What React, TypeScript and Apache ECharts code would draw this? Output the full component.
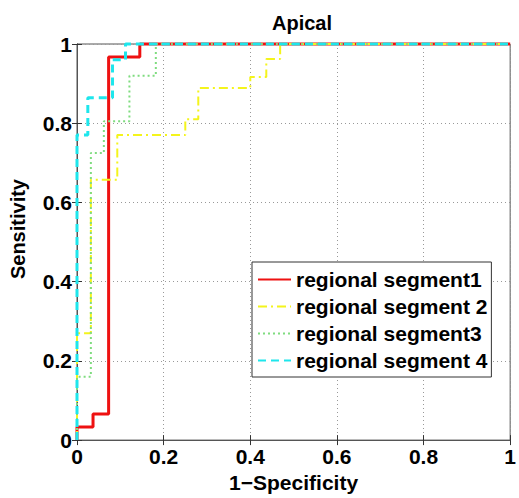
import React, { useEffect, useRef } from "react";
import * as echarts from "echarts";

const titleText = "Apical";
const xName = "1\u2212Specificity";
const yName = "Sensitivity";
const seriesNames = ["regional segment1", "regional segment 2", "regional segment3", "regional segment 4"];

const fpr1 = [0, 0, 0.037, 0.037, 0.073, 0.073, 0.145, 0.145, 1];
const tpr1 = [0, 0.033, 0.033, 0.066, 0.066, 0.967, 0.967, 1, 1];

const fpr2 = [0, 0, 0.032, 0.032, 0.093, 0.093, 0.25, 0.25, 0.28, 0.28, 0.4, 0.4, 0.437, 0.437, 0.469, 0.469, 1];
const tpr2 = [0, 0.27, 0.27, 0.657, 0.657, 0.77, 0.77, 0.81, 0.81, 0.889, 0.889, 0.917, 0.917, 0.962, 0.962, 1, 1];

const fpr3 = [0, 0, 0.032, 0.032, 0.062, 0.062, 0.121, 0.121, 0.182, 0.182, 1];
const tpr3 = [0, 0.16, 0.16, 0.725, 0.725, 0.805, 0.805, 0.92, 0.92, 1, 1];

const fpr4 = [0, 0, 0.025, 0.025, 0.082, 0.082, 0.112, 0.112, 1];
const tpr4 = [0, 0.77, 0.77, 0.864, 0.864, 0.96, 0.96, 1, 1];

const FONT = "'Liberation Sans', Arial, Helvetica, sans-serif";

function zip(xs: number[], ys: number[]) {
  return xs.map((x, i) => [x, ys[i]]);
}

export default function App() {
  const ref = useRef<HTMLDivElement>(null);
  useEffect(() => {
    if (!ref.current) return;
    const chart = echarts.init(ref.current, null, { renderer: "svg" });
    const styles = [
      { color: "#ee1111", width: 3, type: "solid" as any },
      { color: "#f4f41c", width: 2, type: [9, 4, 2, 4] as any },
      { color: "#7fdc7f", width: 2, type: [2, 3] as any },
      { color: "#1ee6ec", width: 3, type: [8, 5] as any },
    ];
    const datas = [zip(fpr1, tpr1), zip(fpr2, tpr2), zip(fpr3, tpr3), zip(fpr4, tpr4)];
    const fmt = (v: number) => String(+v.toFixed(1));
    const grid = { left: 77, top: 44, width: 439, height: 397, show: true, borderColor: "#555", borderWidth: 1 };
    const tickStyle = { show: true, inside: true, length: 5, lineStyle: { color: "#333" } };
    chart.setOption({
      animation: false,
      backgroundColor: "#fff",
      title: {
        text: titleText,
        left: 297,
        top: 8,
        textAlign: "center",
        textStyle: { fontFamily: FONT, fontWeight: "bold", fontSize: 20, color: "#000" },
      },
      grid,
      legend: {
        orient: "vertical",
        left: 252,
        top: 262,
        data: seriesNames,
        backgroundColor: "#fff",
        borderColor: "#333",
        borderWidth: 1,
        padding: [7, 4, 6, 5],
        itemWidth: 33,
        itemHeight: 14,
        itemGap: 6,
        itemStyle: { opacity: 0 },
        textStyle: { fontFamily: FONT, fontWeight: "bold", fontSize: 21, color: "#000" },
      },
      xAxis: [
        {
          type: "value",
          min: 0,
          max: 1,
          interval: 0.2,
          name: xName,
          nameLocation: "middle",
          nameGap: 30,
          nameTextStyle: { fontFamily: FONT, fontWeight: "bold", fontSize: 21, color: "#000" },
          axisLine: { show: true, lineStyle: { color: "#555" } },
          axisTick: tickStyle,
          axisLabel: { formatter: fmt, margin: 6, fontFamily: FONT, fontWeight: "bold", fontSize: 21, color: "#000" },
          splitLine: { show: true, lineStyle: { color: "#999", type: [1, 3], width: 1 } },
        },
        {
          type: "value",
          position: "top",
          min: 0,
          max: 1,
          interval: 0.2,
          axisLine: { show: true, lineStyle: { color: "#555" } },
          axisTick: tickStyle,
          axisLabel: { show: false },
          splitLine: { show: false },
        },
      ],
      yAxis: [
        {
          type: "value",
          min: 0,
          max: 1,
          interval: 0.2,
          name: yName,
          nameLocation: "middle",
          nameGap: 49,
          nameTextStyle: { fontFamily: FONT, fontWeight: "bold", fontSize: 20, color: "#000", padding: [0, 0, 0, 26] },
          axisLine: { show: true, lineStyle: { color: "#555" } },
          axisTick: tickStyle,
          axisLabel: { formatter: fmt, margin: 5, fontFamily: FONT, fontWeight: "bold", fontSize: 21, color: "#000" },
          splitLine: { show: true, lineStyle: { color: "#999", type: [1, 3], width: 1 } },
        },
        {
          type: "value",
          position: "right",
          min: 0,
          max: 1,
          interval: 0.2,
          axisLine: { show: true, lineStyle: { color: "#555" } },
          axisTick: tickStyle,
          axisLabel: { show: false },
          splitLine: { show: false },
        },
      ],
      series: seriesNames.map((name, i) => ({
        name,
        type: "line",
        xAxisIndex: 0,
        yAxisIndex: 0,
        data: datas[i],
        symbol: "none",
        showSymbol: false,
        color: styles[i].color,
        lineStyle: styles[i],
        clip: false,
      })),
    });
    return () => chart.dispose();
  }, []);
  return <div ref={ref} style={{ position: "fixed", left: 0, top: 0, width: 519, height: 498 }} />;
}
